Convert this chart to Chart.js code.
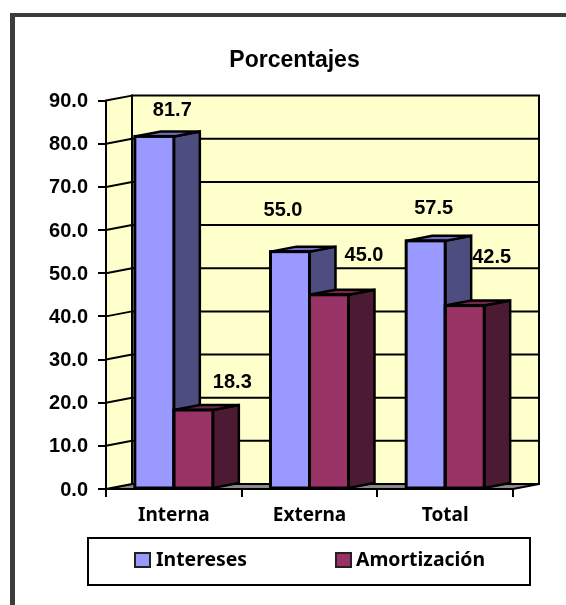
<!DOCTYPE html>
<html>
<head>
<meta charset="utf-8">
<style>
  html, body { margin: 0; padding: 0; background: #fff; }
  #wrap { position: absolute; left: 0; top: 0; width: 566px; height: 605px; }
  #frame { position: absolute; left: 10px; top: 13px; width: 556px; height: 592px;
           border-left: 5px solid #3c3c3c; border-top: 4px solid #3c3c3c; box-sizing: border-box; }
  canvas { position: absolute; left: 0; top: 0; }
</style>
<script src="https://cdn.jsdelivr.net/npm/chart.js@4"></script>
</head>
<body>
<div id="wrap">
  <div id="frame"></div>
  <canvas id="chart" width="566" height="605"></canvas>
</div>
<script>
// Debt service shares by origin
const categories = ['Interna', 'Externa', 'Total'];
const intereses = [81.7, 55.0, 57.5];
const amortizacion = [18.3, 45.0, 42.5];
const seriesNames = ['Intereses', 'Amortización'];
const axisMax = 90;
const axisStep = 10;

// Depth of the pseudo-3D box, in pixels
const depthX = 26;
const depthY = -5;

// Hand-placed value labels: shift from the top centre of each bar
const labelShift = [
  [[18, -26], [-7, -41], [8, -32]],
  [[39, -28], [35, -39], [27, -48]]
];

const palette = [
  { front: '#9999FF', side: '#4D4D80', top: '#6F6FC0' },
  { front: '#993366', side: '#4D1A33', top: '#732650' }
];
const ink = '#000000';
const wallFill = '#FFFFCC';
const floorFill = '#8A8A8A';
const legendFont = 'bold 19.4px "Noto Sans"';
const legendSwatchLeft = [134, 335];
const legendTextLeft = [156, 356];

function poly(ctx, pts, fill) {
  ctx.beginPath();
  pts.forEach((p, i) => i ? ctx.lineTo(p[0], p[1]) : ctx.moveTo(p[0], p[1]));
  ctx.closePath();
  ctx.fillStyle = fill;
  ctx.fill();
  ctx.stroke();
}

const box3d = {
  id: 'box3d',
  afterLayout(chart) {
    // Let the value-axis labels run left past the plot's side margin
    chart.scales.y.left = 0;
  },
  beforeDatasetsDraw(chart) {
    const { ctx, chartArea: a, scales: { y } } = chart;
    ctx.save();
    ctx.strokeStyle = ink;
    ctx.lineWidth = 2;
    ctx.lineJoin = 'miter';
    const top = y.getPixelForValue(axisMax);
    const base = y.getPixelForValue(0);

    // Floor, side wall and back wall
    poly(ctx, [[a.left, base], [a.right, base], [a.right + depthX, base + depthY], [a.left + depthX, base + depthY]], floorFill);
    poly(ctx, [[a.left, top], [a.left + depthX, top + depthY], [a.left + depthX, base + depthY], [a.left, base]], wallFill);
    poly(ctx, [[a.left + depthX, top + depthY], [a.right + depthX, top + depthY], [a.right + depthX, base + depthY], [a.left + depthX, base + depthY]], wallFill);

    // Gridlines wrap from the side wall onto the back wall
    for (let v = axisStep; v < axisMax; v += axisStep) {
      const py = y.getPixelForValue(v);
      ctx.beginPath();
      ctx.moveTo(a.left, py);
      ctx.lineTo(a.left + depthX, py + depthY);
      ctx.lineTo(a.right + depthX, py + depthY);
      ctx.stroke();
    }

    // Side and top faces sit behind the front faces the library draws
    ctx.lineWidth = 2.5;
    chart.data.datasets.forEach((ds, di) => {
      const tone = palette[di];
      chart.getDatasetMeta(di).data.forEach(bar => {
        const l = bar.x - bar.width / 2;
        const r = bar.x + bar.width / 2;
        poly(ctx, [[r, bar.y], [r + depthX, bar.y + depthY], [r + depthX, bar.base + depthY], [r, bar.base]], tone.side);
        poly(ctx, [[l, bar.y], [l + depthX, bar.y + depthY], [r + depthX, bar.y + depthY], [r, bar.y]], tone.top);
      });
    });
    ctx.restore();
  },
  afterDatasetsDraw(chart) {
    const { ctx } = chart;
    ctx.save();
    // Heavy outline centred on each front face
    ctx.strokeStyle = ink;
    ctx.lineWidth = 3;
    chart.data.datasets.forEach((ds, di) => {
      chart.getDatasetMeta(di).data.forEach(bar => {
        ctx.strokeRect(bar.x - bar.width / 2, bar.y, bar.width, bar.base - bar.y);
      });
    });
    ctx.fillStyle = ink;
    ctx.font = 'bold 20px "Liberation Sans"';
    ctx.textAlign = 'center';
    ctx.textBaseline = 'middle';
    chart.data.datasets.forEach((ds, di) => {
      chart.getDatasetMeta(di).data.forEach((bar, i) => {
        const s = labelShift[di][i];
        ctx.fillText(ds.data[i].toFixed(1), bar.x + s[0], bar.y + s[1]);
      });
    });
    ctx.restore();
  },
  afterDraw(chart) {
    // Framed legend below the axis
    const { ctx } = chart;
    ctx.save();
    ctx.strokeStyle = ink;
    ctx.lineWidth = 2;
    ctx.strokeRect(88, 538, 442, 47);
    ctx.font = legendFont;
    ctx.textBaseline = 'middle';
    ctx.textAlign = 'left';
    chart.data.datasets.forEach((ds, di) => {
      const left = legendSwatchLeft[di];
      ctx.fillStyle = palette[di].front;
      ctx.fillRect(left + 1, 553, 15, 14);
      ctx.strokeStyle = '#222';
      ctx.strokeRect(left + 1, 553, 15, 14);
      ctx.fillStyle = ink;
      ctx.fillText(ds.label, legendTextLeft[di], 560.5);
    });
    ctx.restore();
  }
};

new Chart(document.getElementById('chart'), {
  type: 'bar',
  data: {
    labels: categories,
    datasets: [intereses, amortizacion].map((values, i) => ({
      label: seriesNames[i],
      data: values,
      backgroundColor: palette[i].front,
      borderWidth: 0,
      categoryPercentage: 0.575,
      barPercentage: 1
    }))
  },
  plugins: [box3d],
  options: {
    responsive: false,
    animation: false,
    layout: { padding: { left: 76, right: 53, top: 0, bottom: 74 } },
    scales: {
      x: {
        afterFit(s) { s.height = 42; },
        grid: { drawOnChartArea: false, color: ink, lineWidth: 2, tickLength: 8 },
        border: { color: ink, width: 2 },
        ticks: { color: ink, padding: 7, maxRotation: 0, font: { family: '"Noto Sans"', weight: 'bold', size: 19 } }
      },
      y: {
        min: 0,
        max: axisMax,
        afterFit(s) { s.width = 30; },
        grid: { drawOnChartArea: false, color: ink, lineWidth: 2, tickLength: 8 },
        border: { color: ink, width: 2 },
        ticks: {
          stepSize: axisStep,
          color: ink,
          padding: 10,
          labelOffset: 1,
          font: { family: '"Liberation Sans"', weight: 'bold', size: 20 },
          callback: v => Number(v).toFixed(1)
        }
      }
    },
    plugins: {
      tooltip: { enabled: false },
      legend: { display: false },
      title: {
        display: true,
        text: 'Porcentajes',
        color: ink,
        font: { family: '"Liberation Sans"', weight: 'bold', size: 23 },
        padding: { top: 47, bottom: 26 }
      }
    }
  }
});
</script>
</body>
</html>
